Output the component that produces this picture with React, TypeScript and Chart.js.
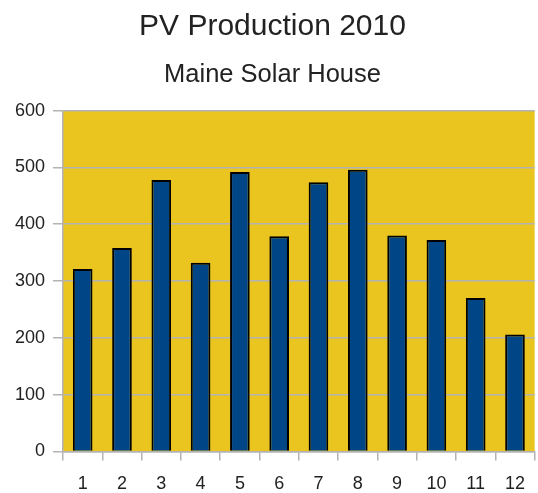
import React, { useEffect, useRef } from "react";
import { Chart, registerables } from "chart.js";

Chart.register(...registerables);

const months = ["1", "2", "3", "4", "5", "6", "7", "8", "9", "10", "11", "12"];
const production = [321, 358, 478, 332, 492, 379, 474, 496, 380, 372, 270, 206];
const titleText = "PV Production 2010";
const subtitleText = "Maine Solar House";

const plotBg = {
  id: "plotBg",
  beforeDraw(chart: any) {
    const { ctx, chartArea } = chart;
    ctx.save();
    ctx.fillStyle = "#EAC51F";
    ctx.fillRect(chartArea.left, chartArea.top, chartArea.right - chartArea.left, chartArea.bottom - chartArea.top);
    ctx.restore();
  },
};

export default function App() {
  const ref = useRef<HTMLCanvasElement>(null);
  useEffect(() => {
    const chart = new Chart(ref.current!, {
      type: "bar",
      data: {
        labels: months,
        datasets: [
          {
            data: production,
            backgroundColor: "#004586",
            borderColor: "#000",
            borderWidth: 2,
            barPercentage: 0.5,
            categoryPercentage: 1,
          },
        ],
      },
      options: {
        responsive: false,
        animation: false,
        layout: { padding: { left: 7, right: 0, top: 0, bottom: -15 } },
        plugins: {
          legend: { display: false },
          tooltip: { enabled: false },
          title: {
            display: true,
            text: titleText,
            color: "#222",
            font: { family: "Liberation Sans", size: 30, weight: "normal" },
            padding: { top: 9, bottom: 8 },
          },
          subtitle: {
            display: true,
            text: subtitleText,
            color: "#222",
            font: { family: "Liberation Sans", size: 25.5, weight: "normal" },
            padding: { top: 7, bottom: 20 },
          },
        },
        scales: {
          x: {
            offset: true,
            grid: {
              offset: true,
              drawOnChartArea: false,
              drawTicks: true,
              tickLength: 9,
              color: "#B3B3B3",
              lineWidth: 1.5,
            },
            border: { display: true, color: "#B3B3B3", width: 1.5 },
            ticks: {
              color: "#222",
              padding: 13,
              font: { family: "Liberation Sans", size: 18 },
            },
          },
          y: {
            min: 0,
            max: 600,
            ticks: {
              stepSize: 100,
              color: "#222",
              padding: 8,
              font: { family: "Liberation Sans", size: 18 },
            },
            grid: { color: "#B3B3B3", lineWidth: 1.5, tickLength: 10 },
            border: { display: true, color: "#B3B3B3", width: 1.5 },
          },
        },
      },
      plugins: [plotBg],
    });
    return () => chart.destroy();
  }, []);
  return (
    <div style={{ position: "absolute", left: 0, top: 0, width: 538, height: 493, background: "#fff" }}>
      <canvas ref={ref} width={538} height={493} />
    </div>
  );
}
